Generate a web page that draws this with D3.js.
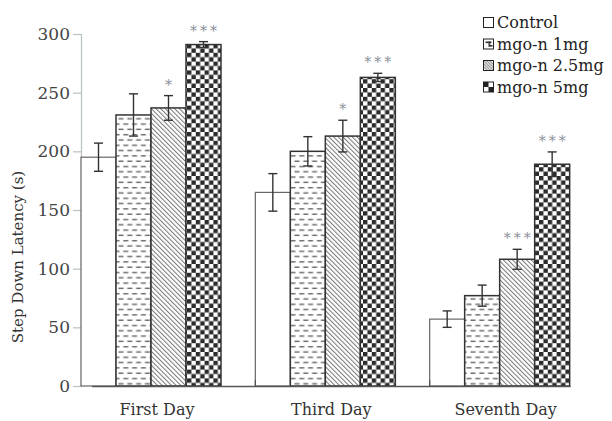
<!DOCTYPE html>
<html><head><meta charset="utf-8">
<script src="https://cdn.jsdelivr.net/npm/d3@7/dist/d3.min.js"></script>
<style>body{margin:0;background:#fff}svg{display:block}</style>
</head><body>
<svg id="c" width="612" height="421"></svg>
<script>
const categories = ["First Day", "Third Day", "Seventh Day"];
const seriesNames = ["Control", "mgo-n 1mg", "mgo-n 2.5mg", "mgo-n 5mg"];
const controlMeans = [195, 165, 57];
const mg1Means = [231, 200, 77];
const mg25Means = [237, 213, 108];
const mg5Means = [291, 263, 189];
const controlErr = [12, 16, 7];
const mg1Err = [18, 12.5, 9];
const mg25Err = [10.5, 13.5, 8.5];
const mg5Err = [2.5, 3.5, 10.5];
const controlSig = ["", "", ""];
const mg1Sig = ["", "", ""];
const mg25Sig = ["*", "*", "***"];
const mg5Sig = ["***", "***", "***"];
const yTicks = [0, 50, 100, 150, 200, 250, 300];

const means = [controlMeans, mg1Means, mg25Means, mg5Means];
const errs = [controlErr, mg1Err, mg25Err, mg5Err];
const sigs = [controlSig, mg1Sig, mg25Sig, mg5Sig];
const fills = ["#fff", "url(#pDash)", "url(#pHatch)", "url(#pCheck)"];

const svg = d3.select("#c");
const font = "'DejaVu Serif', serif";
const defs = svg.append("defs");

// dash pattern
const pd = defs.append("pattern").attr("id", "pDash").attr("patternUnits", "userSpaceOnUse")
  .attr("width", 8.8).attr("height", 10.6).attr("x", 117).attr("y", 0);
pd.append("rect").attr("width", 8.8).attr("height", 10.6).attr("fill", "#fff");
pd.append("rect").attr("x", 1.5).attr("y", 1.5).attr("width", 5).attr("height", 1.4).attr("fill", "#666");
pd.append("rect").attr("x", -2.5).attr("y", 6.8).attr("width", 5).attr("height", 1.4).attr("fill", "#666");
pd.append("rect").attr("x", 6.3).attr("y", 6.8).attr("width", 5).attr("height", 1.4).attr("fill", "#666");

// hatch pattern (lines running top-left to bottom-right)
const ph = defs.append("pattern").attr("id", "pHatch").attr("patternUnits", "userSpaceOnUse")
  .attr("width", 3.3).attr("height", 3.3).attr("patternTransform", "rotate(-45)");
ph.append("rect").attr("width", 3.3).attr("height", 3.3).attr("fill", "#fff");
ph.append("rect").attr("x", 0).attr("y", 0).attr("width", 1).attr("height", 3.3).attr("fill", "#777");

// checker pattern
const cs = 4.4;
const pc = defs.append("pattern").attr("id", "pCheck").attr("patternUnits", "userSpaceOnUse")
  .attr("width", cs * 2).attr("height", cs * 2).attr("x", 187).attr("y", 0);
pc.append("rect").attr("width", cs * 2).attr("height", cs * 2).attr("fill", "#fff");
pc.append("rect").attr("width", cs).attr("height", cs).attr("fill", "#2b2b2b");
pc.append("rect").attr("x", cs).attr("y", cs).attr("width", cs).attr("height", cs).attr("fill", "#2b2b2b");

// legend small patterns
const lp1 = defs.append("pattern").attr("id", "lDash").attr("patternUnits", "objectBoundingBox").attr("width", 1).attr("height", 1);
lp1.append("rect").attr("width", 10).attr("height", 10).attr("fill", "#fff");
lp1.append("rect").attr("x", 2).attr("y", 2.5).attr("width", 6).attr("height", 1.6).attr("fill", "#333");
lp1.append("rect").attr("x", 5).attr("y", 6).attr("width", 4).attr("height", 1.6).attr("fill", "#333");
lp1.append("rect").attr("x", 5).attr("y", 2.5).attr("width", 1.6).attr("height", 5).attr("fill", "#333");
const lp2 = defs.append("pattern").attr("id", "lHatch").attr("patternUnits", "objectBoundingBox").attr("width", 1).attr("height", 1);
lp2.append("rect").attr("width", 10).attr("height", 10).attr("fill", "#fff");
[[0, 3, 7, 10], [0, 0, 10, 10], [3, 0, 10, 7], [0, 6, 4, 10], [6, 0, 10, 4]].forEach(l =>
  lp2.append("line").attr("x1", l[0]).attr("y1", l[1]).attr("x2", l[2]).attr("y2", l[3]).attr("stroke", "#444").attr("stroke-width", 1));
const lp3 = defs.append("pattern").attr("id", "lCheck").attr("patternUnits", "objectBoundingBox").attr("width", 1).attr("height", 1);
lp3.append("rect").attr("width", 10).attr("height", 10).attr("fill", "#fff");
lp3.append("rect").attr("width", 5).attr("height", 5).attr("fill", "#222");
lp3.append("rect").attr("x", 5).attr("y", 5).attr("width", 5).attr("height", 5).attr("fill", "#222");
const legendFills = ["#fff", "url(#lDash)", "url(#lHatch)", "url(#lCheck)"];

const y = d3.scaleLinear().domain([0, 300]).range([386, 34]);
const x = d3.scaleBand().domain(categories).range([81, 604]).paddingInner(0).paddingOuter(0);
const xi = d3.scaleBand().domain(seriesNames).range([0, 140]);

// y axis
const yAxis = d3.axisLeft(y).tickValues(yTicks).tickSize(8).tickPadding(3);
const gy = svg.append("g").attr("transform", "translate(81,0)").call(yAxis);
gy.select(".domain").attr("stroke", "#b8c0c4").attr("stroke-width", 1.2);
gy.selectAll(".tick line").attr("stroke", "#b8c0c4").attr("stroke-width", 1.2);
gy.selectAll(".tick text").attr("font-family", font).attr("font-size", 17).attr("fill", "#444");

// bars
categories.forEach((cat, ci) => {
  seriesNames.forEach((s, si) => {
    const v = means[si][ci];
    const bx = x(cat) + xi(s);
    svg.append("rect")
      .attr("x", bx).attr("y", y(v))
      .attr("width", xi.bandwidth()).attr("height", y(0) - y(v))
      .attr("fill", fills[si])
      .attr("stroke", si === 0 ? "#666" : "#333")
      .attr("stroke-width", si === 0 ? 1.2 : 1.5);
  });
});

// error bars and significance
categories.forEach((cat, ci) => {
  seriesNames.forEach((s, si) => {
    const v = means[si][ci], e = errs[si][ci];
    const cx = x(cat) + xi(s) + xi.bandwidth() / 2;
    const g = svg.append("g").attr("stroke", "#333").attr("stroke-width", 1.4);
    g.append("line").attr("x1", cx).attr("x2", cx).attr("y1", y(v + e)).attr("y2", y(v - e));
    g.append("line").attr("x1", cx - 4.5).attr("x2", cx + 4.5).attr("y1", y(v + e)).attr("y2", y(v + e));
    g.append("line").attr("x1", cx - 4.5).attr("x2", cx + 4.5).attr("y1", y(v - e)).attr("y2", y(v - e));
    const sg = sigs[si][ci];
    if (sg) {
      svg.append("text").attr("x", cx + 1.5).attr("y", y(v + e) - 6)
        .attr("text-anchor", "middle").attr("font-family", font).attr("font-size", 14)
        .attr("letter-spacing", 3).attr("fill", "#8a8f99").text(sg);
    }
  });
});

// x baseline and ticks
svg.append("line").attr("x1", 92).attr("x2", x(categories[2]) + 141).attr("y1", 386.5).attr("y2", 386.5)
  .attr("stroke", "#555").attr("stroke-width", 1.6);
categories.slice(1).forEach(c => {
  svg.append("line").attr("x1", x(c)).attr("x2", x(c)).attr("y1", 380).attr("y2", 386)
    .attr("stroke", "#555").attr("stroke-width", 1.2);
});
categories.forEach(c => {
  svg.append("text").attr("x", x(c) + 76).attr("y", 415).attr("text-anchor", "middle")
    .attr("font-family", font).attr("font-size", 16).attr("fill", "#333").text(c);
});

// y title
svg.append("text").attr("transform", "translate(23,257) rotate(-90)").attr("text-anchor", "middle")
  .attr("font-family", font).attr("font-size", 15).attr("fill", "#333").text("Step Down Latency (s)");

// legend
seriesNames.forEach((s, i) => {
  const ly = 22.5 + i * 21.5;
  svg.append("rect").attr("x", 483.5).attr("y", ly - 5).attr("width", 10).attr("height", 10)
    .attr("fill", legendFills[i]).attr("stroke", "#222").attr("stroke-width", 1);
  svg.append("text").attr("x", 497).attr("y", ly + 5.5).attr("font-family", font).attr("font-size", 16)
    .attr("fill", "#222").text(s);
});
</script>
</body></html>
